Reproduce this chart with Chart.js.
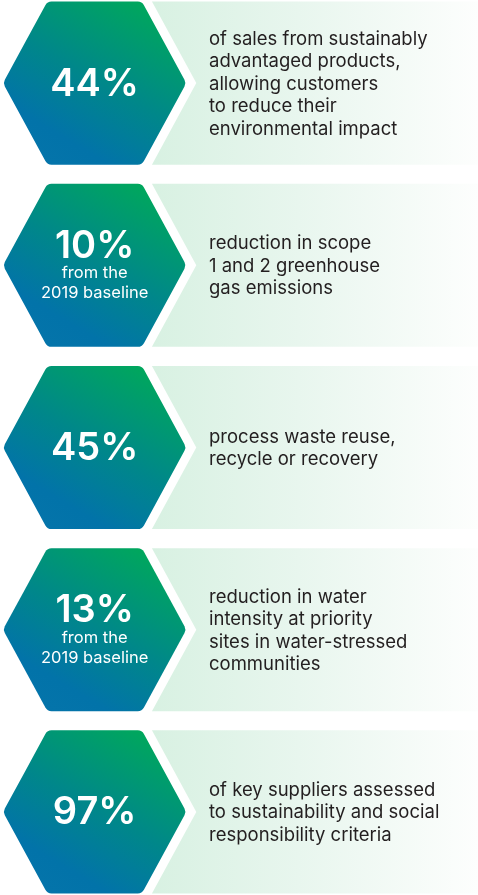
<!DOCTYPE html>
<html>
<head>
<meta charset="utf-8">
<script src="https://cdn.jsdelivr.net/npm/chart.js@4.4.0/dist/chart.umd.min.js"></script>
<style>
  html, body { margin: 0; padding: 0; background: #fff; overflow: hidden; }
  #wrap { position: relative; width: 478px; height: 911px; margin-top: -8px; }
</style>
</head>
<body>
<div id="wrap"><canvas id="statsChart"></canvas></div>
<script>
// --- data ---
var categories = ['44%', '10%', '45%', '13%', '97%'];
var values = [44, 10, 45, 13, 97];
var subLabels = [
    [],
    ['from the', '2019 baseline'],
    [],
    ['from the', '2019 baseline'],
    []
];
var descriptions = [
    ['of sales from sustainably', 'advantaged products,', 'allowing customers', 'to reduce their', 'environmental impact'],
    ['reduction in scope', '1 and 2 greenhouse', 'gas emissions'],
    ['process waste reuse,', 'recycle or recovery'],
    ['reduction in water', 'intensity at priority', 'sites in water-stressed', 'communities'],
    ['of key suppliers assessed', 'to sustainability and social', 'responsibility criteria']
];

// rounded polygon helper
function roundedPoly(ctx, pts, r) {
    var n = pts.length;
    ctx.beginPath();
    ctx.moveTo((pts[0][0] + pts[1][0]) / 2, (pts[0][1] + pts[1][1]) / 2);
    for (var i = 1; i <= n; i++) {
        var p = pts[i % n], q = pts[(i + 1) % n];
        ctx.arcTo(p[0], p[1], q[0], q[1], r);
    }
    ctx.closePath();
}

// draws hexagons, panels and text on each (invisible) bar row
var hexPlugin = {
    id: 'hexRows',
    afterDatasetsDraw: function(chart) {
        var ctx = chart.ctx;
        var meta = chart.getDatasetMeta(0);
        var W = chart.width;
        meta.data.forEach(function(bar, i) {
            var cy = bar.y;
            var h = bar.height;
            var top = cy - h / 2, bottom = cy + h / 2;
            var hw = h * 0.562;   // half width of the hexagon
            var he = h * 0.29;    // half length of the flat top edge
            var cx = 3 + hw;
            var gap = 10;

            // panel with chevron notch
            ctx.save();
            var pg = ctx.createLinearGradient(cx + he + gap, 0, W, 0);
            pg.addColorStop(0, '#d8f1e2');
            pg.addColorStop(0.45, '#e8f6ee');
            pg.addColorStop(1, '#fdfefd');
            ctx.fillStyle = pg;
            ctx.beginPath();
            ctx.moveTo(cx + he + gap, top);
            ctx.lineTo(W, top);
            ctx.lineTo(W, bottom);
            ctx.lineTo(cx + he + gap, bottom);
            ctx.lineTo(cx + hw + gap, cy);
            ctx.closePath();
            ctx.fill();
            ctx.restore();

            // hexagon
            var pts = [
                [cx - hw, cy], [cx - he, top], [cx + he, top],
                [cx + hw, cy], [cx + he, bottom], [cx - he, bottom]
            ];
            ctx.save();
            var hg = ctx.createLinearGradient(cx + hw * 0.6, top, cx - hw * 0.45, bottom);
            hg.addColorStop(0, '#00a95a');
            hg.addColorStop(0.5, '#00878a');
            hg.addColorStop(0.85, '#0273a9');
            hg.addColorStop(1, '#0474aa');
            ctx.fillStyle = hg;
            roundedPoly(ctx, pts, 7);
            ctx.fill();

            // stat text
            ctx.fillStyle = '#ffffff';
            ctx.textAlign = 'center';
            ctx.textBaseline = 'middle';
            var subs = subLabels[i];
            if (subs.length) {
                ctx.font = '600 38px Inter, "Open Sans", sans-serif';
                ctx.fillText(chart.data.labels[i], cx, cy - 19);
                ctx.font = '400 16.5px Inter, "Open Sans", sans-serif';
                subs.forEach(function(t, k) {
                    ctx.fillText(t, cx, cy + 8 + k * 20);
                });
            } else {
                ctx.font = '600 38px Inter, "Open Sans", sans-serif';
                ctx.fillText(chart.data.labels[i], cx, cy + 1);
            }

            // description
            var lines = descriptions[i];
            var lh = 22.5;
            ctx.fillStyle = '#231f20';
            ctx.textAlign = 'left';
            ctx.font = '400 18.5px Inter, "Open Sans", sans-serif';
            var y0 = cy - (lines.length - 1) * lh / 2 + 1;
            lines.forEach(function(t, k) {
                ctx.fillText(t, 209, y0 + k * lh);
            });
            ctx.restore();
        });
    }
};

var ctx = document.getElementById('statsChart').getContext('2d');
var statsChart = new Chart(ctx, {
    type: 'bar',
    data: {
        labels: categories,
        datasets: [{
            label: 'Sustainability results',
            data: values,
            backgroundColor: 'rgba(0, 0, 0, 0)',
            borderWidth: 0,
            barPercentage: 1,
            categoryPercentage: 0.895
        }]
    },
    options: {
        indexAxis: 'y',
        responsive: true,
        maintainAspectRatio: false,
        animation: false,
        layout: { padding: 0 },
        scales: {
            x: { display: false, min: 0, max: 100 },
            y: { display: false }
        },
        plugins: {
            legend: { display: false },
            tooltip: { enabled: false }
        }
    },
    plugins: [hexPlugin]
});
</script>
</body>
</html>
